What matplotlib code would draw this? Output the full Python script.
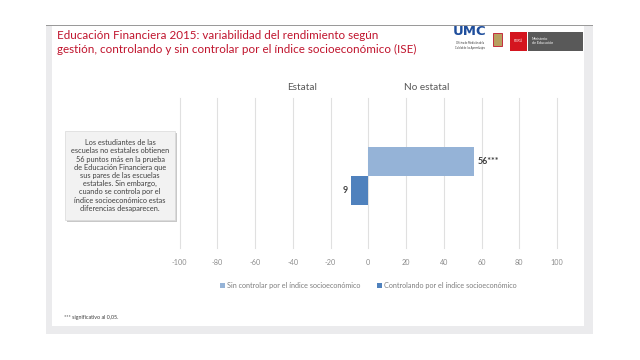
import matplotlib.pyplot as plt
from matplotlib.patches import Rectangle, FancyBboxPatch

# data
series = ['Sin controlar por el índice socioeconómico',
          'Controlando por el índice socioeconómico']
values = [56, -9]
value_labels = ['56***', '9']
colors = ['#95B3D7', '#4F81BD']
ticks = [-100, -80, -60, -40, -20, 0, 20, 40, 60, 80, 100]
groups = ['Estatal', 'No estatal']
group_x = [-35, 31]

title = ('Educación Financiera 2015: variabilidad del rendimiento según\n'
         'gestión, controlando y sin controlar por el índice socioeconómico (ISE)')
note = ('Los estudiantes de las\nescuelas no estatales obtienen\n'
        '56 puntos más en la prueba\nde Educación Financiera que\n'
        'sus pares de las escuelas\nestatales. Sin embargo,\n'
        'cuando se controla por el\níndice socioeconómico estas\n'
        'diferencias desaparecen.')
footnote = '*** significativo al 0,05.'

plt.rcParams['font.family'] = ['Lato', 'DejaVu Sans']

W, H = 640, 360
fig = plt.figure(figsize=(6.4, 3.6), dpi=100)
fig.patch.set_facecolor('white')


def px(x0, y0, w, h, z=-1, **kw):
    # rectangle in pixel coords (top-left origin)
    fig.patches.append(Rectangle((x0 / W, 1 - (y0 + h) / H), w / W, h / H,
                                 transform=fig.transFigure, zorder=z, **kw))


# slide frame
px(46, 25, 547, 309, facecolor='#ebebed', edgecolor='none')
px(52, 26, 532, 31, facecolor='white', edgecolor='none')
px(52, 57, 532, 269, facecolor='white', edgecolor='none')
px(46, 24.5, 547, 1.2, facecolor='#9a9a9a', edgecolor='none')

fig.text(57 / W, 1 - 30 / H, title, color='#C0142D', fontsize=8.4,
         va='top', ha='left', linespacing=1.3)

# logos
fig.text(470 / W, 1 - 31.5 / H, 'UMC', color='#1F4E9C', fontsize=9.5,
         fontweight='bold', ha='center', va='center', family='DejaVu Sans')
fig.text(470 / W, 1 - 45.5 / H, 'Oficina de Medición de la\nCalidad de los Aprendizajes',
         color='#333333', fontsize=1.8, ha='center', va='center')
px(493, 33, 9, 13, z=2, facecolor='#b8a060', edgecolor='#c0142d', linewidth=0.6)
px(510, 32, 17, 19, z=2, facecolor='#d4151f', edgecolor='none')
fig.text(518.5 / W, 1 - 41.5 / H, 'PERÚ', color='white', fontsize=2.6,
         ha='center', va='center', zorder=3)
px(528, 32, 55, 19, z=2, facecolor='#595959', edgecolor='none')
fig.text(532 / W, 1 - 41.5 / H, 'Ministerio\nde Educación', color='white',
         fontsize=2.6, ha='left', va='center', zorder=3, linespacing=1.0)

# chart
ax = fig.add_axes([179.5 / W, 1 - 248 / H, 377.5 / W, 150 / H])
ax.set_zorder(5)
ax.set_xlim(-100, 100)
ax.set_ylim(0, 1)
for s in ax.spines.values():
    s.set_visible(False)
ax.set_facecolor('none')
ax.set_xticks(ticks)
ax.set_xticklabels([str(t) for t in ticks])
ax.tick_params(axis='x', length=0, labelsize=5.2, labelcolor='#8c8c8c', pad=8)
ax.set_yticks([])
for x in ticks:
    ax.axvline(x, color='#e0e0e0', linewidth=0.8, zorder=0, clip_on=False)

bh = 0.193
centers = [0.576, 0.576 - bh]
for v, c, yc, lab, name in zip(values, colors, centers, value_labels, series):
    ax.barh(yc, v, height=bh, color=c, label=name, zorder=2)
    off = 2 if v > 0 else -2
    ax.text(v + off, yc, lab, ha='left' if v > 0 else 'right', va='center',
            fontsize=6.4, fontweight='bold', color='#404040')

for g, gx in zip(groups, group_x):
    ax.text(gx, 1.067, g, transform=ax.get_xaxis_transform(), ha='center',
            va='center', fontsize=7.2, color='#595959')

ax.legend(loc='center', bbox_to_anchor=(0.5, -0.25), ncol=2, frameon=False,
          fontsize=5.2, labelcolor='#7f7f7f', handlelength=0.7, handleheight=0.7,
          handletextpad=0.3, columnspacing=2.2)

# note box
shadow = FancyBboxPatch((67 / W, 1 - 222 / H), 110 / W, 89 / H,
                        boxstyle='square,pad=0', transform=fig.transFigure,
                        facecolor='#c8c8c8', edgecolor='none', zorder=1)
box = FancyBboxPatch((65 / W, 1 - 220 / H), 110 / W, 89 / H,
                     boxstyle='square,pad=0', transform=fig.transFigure,
                     facecolor='#f2f2f2', edgecolor='#d9d9d9', linewidth=0.5,
                     zorder=1)
fig.patches.append(shadow)
fig.patches.append(box)
fig.text(120 / W, 1 - 175.5 / H, note, ha='center', va='center', fontsize=5.3,
         color='#404040', linespacing=1.2, zorder=2)

fig.text(64 / W, 1 - 318 / H, footnote, ha='left', va='center', fontsize=3.9,
         color='#404040')

fig.savefig('out.png', dpi=100)
